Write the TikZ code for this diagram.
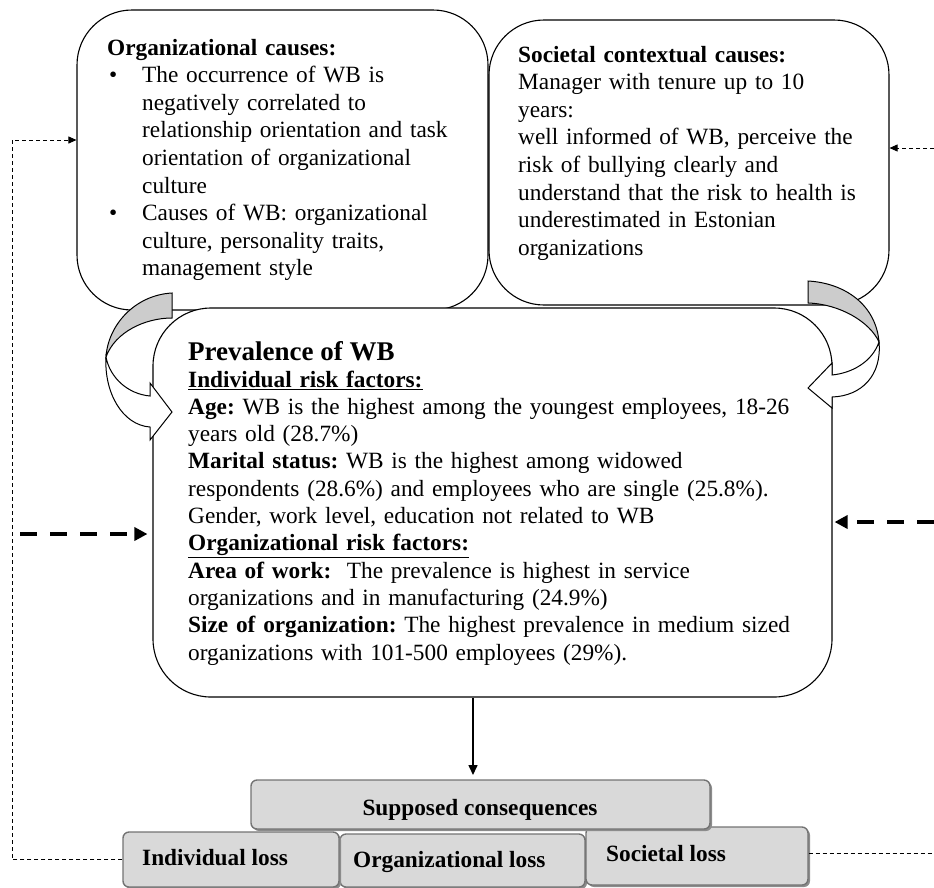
\documentclass[tikz,border=0pt]{standalone}
\usepackage{fontspec}
\setmainfont{Liberation Serif}
\usetikzlibrary{arrows.meta}
\definecolor{backgray}{gray}{0.80}
\definecolor{boxgray}{gray}{0.85}
\definecolor{bordergray}{gray}{0.45}
\definecolor{shadowgray}{gray}{0.55}
\tikzset{
  causebox/.style={draw, line width=1.1pt, fill=white, rounded corners=55pt, inner sep=0pt},
  mainbox/.style={draw, line width=1.1pt, fill=white, rounded corners=58pt, inner sep=0pt},
  lossbox/.style={draw=bordergray, line width=1.4pt, fill=boxgray, rounded corners=6pt, inner sep=0pt},
  shadowbox/.style={fill=shadowgray, rounded corners=6pt, inner sep=0pt},
  bodytext/.style={inner sep=0pt, anchor=base west, align=left, font=\fontsize{23.3pt}{27.6pt}\selectfont\frenchspacing},
  losstext/.style={inner sep=0pt, anchor=base west, font=\fontsize{23.3pt}{27.6pt}\selectfont\bfseries},
  thindash/.style={line width=0.8pt, dash pattern=on 4pt off 3pt},
  thickdash/.style={line width=3.6pt, dash pattern=on 17pt off 13pt},
  thinhead/.style={-{Triangle[length=8pt,width=7pt]}},
  thickhead/.style={-{Triangle[length=13pt,width=13pt]}},
  curveback/.style={draw, line width=1pt, fill=backgray},
  curvefront/.style={draw, line width=1pt, fill=white},
}
\begin{document}
\frenchspacing
\begin{tikzpicture}[x=1pt,y=-1pt]
\useasboundingbox (0,0) rectangle (934,887);

% cause boxes
\node[causebox, minimum width=411pt, minimum height=300pt] (orgcause) at (282.5,160) {};
\node[causebox, minimum width=400pt, minimum height=285pt] (soccause) at (689,162.5) {};

\node[bodytext, text width=380pt] (orgtext) at (107,55) {%
\textbf{Organizational causes:}\\
\makebox[35pt][l]{\hspace{2pt}\textbullet}The occurrence of WB is\\
\hspace*{35pt}negatively correlated to\\
\hspace*{35pt}relationship orientation and task\\
\hspace*{35pt}orientation of organizational\\
\hspace*{35pt}culture\\
\makebox[35pt][l]{\hspace{2pt}\textbullet}Causes of WB: organizational\\
\hspace*{35pt}culture, personality traits,\\
\hspace*{35pt}management style};

\node[bodytext, text width=370pt] (soctext) at (518,62) {%
\textbf{Societal contextual causes:}\\
Manager with tenure up to 10\\
years:\\
well informed of WB, perceive the\\
risk of bullying clearly and\\
understand that the risk to health is\\
underestimated in Estonian\\
organizations};

% main box
\node[mainbox, minimum width=679pt, minimum height=389pt] (prev) at (492.5,502.5) {};
\node[inner sep=0pt, anchor=base west, font=\fontsize{27pt}{30pt}\selectfont\bfseries] (prevtitle) at (188,360) {Prevalence of WB};
\node[bodytext, text width=660pt, font=\fontsize{23.3pt}{27.3pt}\selectfont\frenchspacing] (prevtext) at (188,387) {%
\underline{\textbf{Individual risk factors:}}\\
\textbf{Age:} WB is the highest among the youngest employees, 18-26\\
years old (28.7\%)\\
\textbf{Marital status:} WB is the highest among widowed\\
respondents (28.6\%) and employees who are single (25.8\%).\\
Gender, work level, education not related to WB\\
\underline{\textbf{Organizational risk factors:}}\\
\textbf{Area of work:}\ \ The prevalence is highest in service\\
organizations and in manufacturing (24.9\%)\\
\textbf{Size of organization:} The highest prevalence in medium sized\\
organizations with 101-500 employees (29\%).};

% curved arrows (left)
\path[curveback] (172,293) .. controls (135,295) and (108,325) .. (106,357)
  .. controls (115,332) and (145,318) .. (172,318) -- cycle;
\path[curvefront] (106,357) .. controls (104,392) and (122,425) .. (150,427)
  -- (150,440) -- (172,412) -- (150,383) -- (150,396)
  .. controls (128,394) and (110,378) .. (106,357) -- cycle;
% curved arrows (right)
\path[curveback] (808,281) .. controls (845,283) and (876,305) .. (879,342)
  .. controls (870,322) and (840,304) .. (808,303) -- cycle;
\path[curvefront] (879,342) .. controls (882,375) and (862,396) .. (832,397)
  -- (832,408) -- (808,388) -- (832,363) -- (832,375)
  .. controls (852,373) and (872,362) .. (879,342) -- cycle;

% bottom boxes
\node[shadowbox, minimum width=245pt, minimum height=53pt] at (464.5,862.5) {};
\node[lossbox, minimum width=245pt, minimum height=53pt] (orgloss) at (462.5,860.5) {};
\node[shadowbox, minimum width=216pt, minimum height=55pt] at (233,861.5) {};
\node[lossbox, minimum width=216pt, minimum height=55pt] (indiv) at (231,859.5) {};
\node[shadowbox, minimum width=222pt, minimum height=58pt] at (699,858) {};
\node[lossbox, minimum width=222pt, minimum height=58pt] (socloss) at (697,856) {};
\node[shadowbox, minimum width=459pt, minimum height=49pt] at (482.5,806.5) {};
\node[lossbox, minimum width=459pt, minimum height=49pt] (supp) at (480.5,804.5) {};

\node[losstext, anchor=base] (supptext) at (480,815) {Supposed consequences};
\node[losstext] (indivtext) at (142,865) {Individual loss};
\node[losstext] (orgtext2) at (353,867) {Organizational loss};
\node[losstext] (soctext2) at (606,861) {Societal loss};

% connectors
\coordinate (lcorner) at (12,140);
\draw[thindash, thinhead] (indiv.west) -| (lcorner) -- (lcorner -| orgcause.west);
\coordinate (rin) at (934,148);
\draw[thindash, thinhead] (rin) -- (rin -| soccause.east);
\coordinate (rout) at (934,853);
\draw[thindash] (socloss.east |- rout) -- (rout);
\coordinate (tl) at (20,534);
\draw[thickdash, thickhead, shorten >=5pt] (tl) -- (tl -| prev.west);
\coordinate (tr) at (934,522);
\draw[thickdash, thickhead, shorten >=2pt] (tr) -- (tr -| prev.east);
\coordinate (arrx) at (473,775);
\draw[line width=1.5pt, -{Triangle[length=10pt,width=9pt]}] (arrx |- prev.south) -- (arrx);
\end{tikzpicture}
\end{document}
